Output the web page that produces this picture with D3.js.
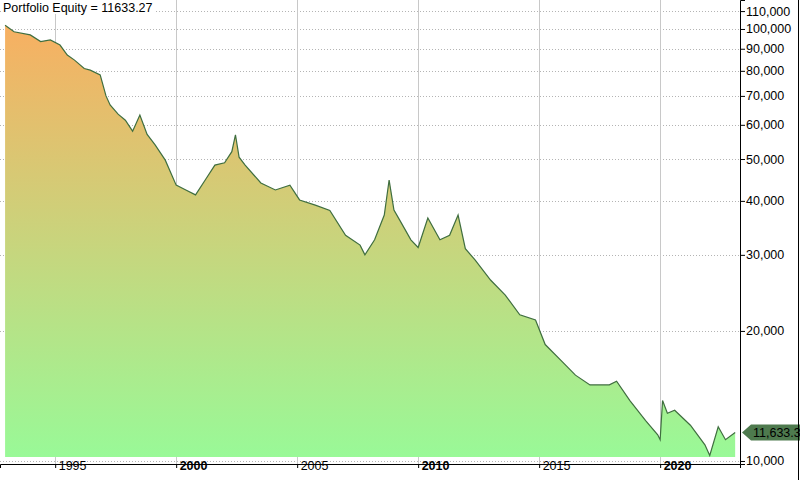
<!DOCTYPE html>
<html><head><meta charset="utf-8">
<script src="https://cdn.jsdelivr.net/npm/d3@7"></script>
<style>body{margin:0;background:#fff}svg{font-family:"Liberation Sans",Arial,sans-serif}</style>
</head><body><div id="chart"></div>
<script>
// --- Data ---
const years = [1992.93,1993.3,1993.97,1994.4,1994.8,1995.2,1995.5,1995.8,1996.2,1996.45,1996.86,1997.1,1997.27,1997.6,1997.9,1998.2,1998.5,1998.8,1999.13,1999.55,
  2000,2000.4,2000.8,2001.2,2001.6,2002.0,2002.3,2002.45,2002.6,2002.85,2003.5,2004.1,2004.7,2005.1,2005.75,2006.35,2007,2007.6,2007.8,2008.2,
  2008.6,2008.8,2009.0,2009.25,2009.7,2010,2010.4,2010.9,2011.3,2011.65,2011.95,2012.35,2013,2013.6,2014.2,2014.85,2015.25,2015.9,2016.5,2017.1,
  2017.9,2018.2,2018.75,2019.4,2019.9,2020.0,2020.1,2020.3,2020.6,2021.25,2021.85,2022.05,2022.4,2022.7,2023.1];
const equity = [102000,98500,96900,93500,94300,91800,87000,84700,81000,80300,78300,70000,66700,63500,61500,58000,63200,57000,53900,49700,
  43500,42400,41300,44700,48400,49000,52000,56900,50500,48400,44000,42400,43500,40200,39100,38000,33300,31600,30000,32500,
  37100,44700,38100,36000,32500,31200,36500,32500,33300,37100,31000,29200,26200,24200,21800,21200,18600,17100,15800,15000,
  15000,15300,13800,12400,11500,11200,13800,12900,13100,12100,10900,10300,12000,11200,11633];
const yTicks = [10000,20000,30000,40000,50000,60000,70000,80000,90000,100000,110000];
const xLabelYears = [1995,2000,2005,2010,2015,2020];
const boldYears = [2000,2010,2020];
const lastValue = 11633.27;

const W = 800, H = 480;
const margin = { top: 0, right: 60, bottom: 16, left: 0 };
const plotW = W - margin.left - margin.right;   // 740
const plotH = H - margin.top - margin.bottom;   // 464

const svg = d3.select('#chart').append('svg').attr('width', W).attr('height', H);

const x = d3.scaleLinear().domain([1992.72, 2023.3]).range([0, plotW]);
const y = d3.scaleLog().domain([9840, 116700]).range([plotH, 0]);

const defs = svg.append('defs');
const grad = defs.append('linearGradient').attr('id', 'fillGrad')
  .attr('gradientUnits', 'userSpaceOnUse').attr('x1', 0).attr('x2', 0)
  .attr('y1', y(100000)).attr('y2', y(10000));
grad.append('stop').attr('offset', 0).attr('stop-color', '#f7b062');
grad.append('stop').attr('offset', 1).attr('stop-color', '#98fa98');

const g = svg.append('g').attr('transform', `translate(${margin.left},${margin.top})`);

// Horizontal dotted gridlines
g.selectAll('.hgrid').data(yTicks).enter().append('line')
  .attr('x1', 0).attr('x2', plotW)
  .attr('y1', d => Math.round(y(d)) + 0.5).attr('y2', d => Math.round(y(d)) + 0.5)
  .attr('stroke', '#b4b4b4').attr('stroke-dasharray', '1,2');

// Vertical gridlines every 5 years
g.selectAll('.vgrid').data(xLabelYears).enter().append('line')
  .attr('x1', d => Math.round(x(d)) + 0.5).attr('x2', d => Math.round(x(d)) + 0.5)
  .attr('y1', 0).attr('y2', plotH)
  .attr('stroke', '#c8c8c8');

// Equity area + line
const pts = years.map((d, i) => ({ t: d, v: equity[i] }));
const baseY = y(10000) - 4;
g.append('path').datum(pts)
  .attr('fill', 'url(#fillGrad)')
  .attr('d', d3.area().x(d => x(d.t)).y0(baseY).y1(d => y(d.v)));
g.append('path').datum(pts)
  .attr('fill', 'none').attr('stroke', '#3f6e3f').attr('stroke-width', 1.2)
  .attr('d', d3.line().x(d => x(d.t)).y(d => y(d.v)));

// Right axis
const yAxis = g.append('g').attr('transform', `translate(${plotW},0)`)
  .call(d3.axisRight(y).tickValues(yTicks).tickFormat(d3.format(',')).tickSize(5));
yAxis.select('.domain').attr('stroke', '#000');
yAxis.selectAll('text').style('font-size', '12.5px').attr('fill', '#000').attr('x', 6);

// Bottom axis
const xAxis = g.append('g').attr('transform', `translate(0,${plotH})`)
  .call(d3.axisBottom(x).tickValues(xLabelYears).tickFormat(d3.format('d')).tickSize(4));
xAxis.select('.domain').attr('stroke', '#000');
xAxis.selectAll('text').style('font-size', '12.5px').attr('fill', '#000')
  .attr('text-anchor', 'start').attr('dx', 3).attr('dy', -1)
  .style('font-weight', d => boldYears.includes(d) ? 'bold' : 'normal');

// Outer right border
svg.append('line').attr('x1', W - 1.5).attr('x2', W - 1.5).attr('y1', 0).attr('y2', H).attr('stroke', '#000');

// Last value marker
const ly = y(lastValue);
const tag = g.append('g').attr('transform', `translate(${plotW + 2},${ly})`);
tag.append('path').attr('d', 'M0,0 L9,-8 L60,-8 L60,8 L9,8 Z').attr('fill', '#4e7a4e');
tag.append('text').attr('x', 11).attr('y', 4.5).style('font-size', '12.5px').attr('fill', '#000')
  .text(d3.format(',.1f')(lastValue));

// Title
svg.append('rect').attr('x', 2).attr('y', 0).attr('width', 152).attr('height', 14).attr('fill', '#fff');
svg.append('text').attr('x', 3).attr('y', 12).style('font-size', '12.5px').attr('fill', '#000')
  .text('Portfolio Equity = ' + lastValue);
</script></body></html>
